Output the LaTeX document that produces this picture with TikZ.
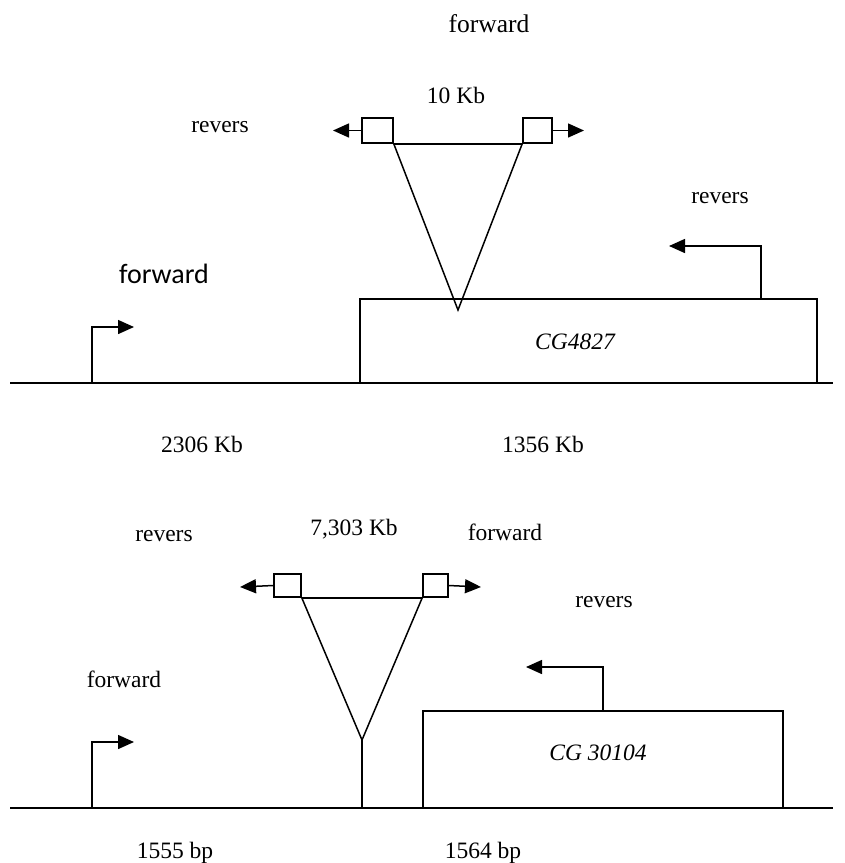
\documentclass[tikz,border=0pt]{standalone}
\usepackage{fontspec}
\setmainfont{Liberation Serif}
\newfontfamily\carlito{Carlito}
\usetikzlibrary{arrows.meta}
\begin{document}
\begin{tikzpicture}[x=1pt,y=-1pt,
  line width=1.5pt,
  lbl/.style={anchor=base,inner sep=0pt,font=\fontsize{23.5}{26}\selectfont},
  sans/.style={anchor=base,inner sep=0pt,font=\carlito\fontsize{28}{32}\selectfont},
  primer/.style={draw,rectangle,inner sep=0pt,line width=1.5pt},
  gene/.style={draw,rectangle,inner sep=0pt,line width=1.5pt},
  tip/.style={-{Triangle[length=16pt,width=14pt]}}]
\useasboundingbox (0,0) rectangle (845,863);
% ---------- top diagram ----------
\coordinate (b1l) at (10,383);
\coordinate (b1r) at (833,383);
\draw (b1l) -- (b1r);
\node[gene,minimum width=457pt,minimum height=84pt] (g1) at (588.5,341) {};
\node[lbl,font=\itshape\fontsize{23.5}{26}\selectfont] (g1t) at (575,349) {CG4827};
\node[primer,minimum width=31pt,minimum height=25pt] (lp1) at (377.5,130.5) {};
\node[primer,minimum width=29pt,minimum height=25pt] (rp1) at (537.5,130.5) {};
\coordinate (a1) at (458,310);
\draw (lp1.south east) -- (rp1.south west);
\draw (lp1.south east) -- (a1) -- (rp1.south west);
\coordinate (lt1) at (333,130.5);
\coordinate (rt1) at (584,130.5);
\draw[tip] (lp1.west) -- (lt1);
\draw[tip] (rp1.east) -- (rt1);
\coordinate (fp1) at (92,383);
\coordinate (ft1) at (134,327);
\draw[tip] (fp1) |- (ft1);
\coordinate (rv1) at (761,299);
\coordinate (rvt1) at (669,246);
\draw[tip] (rv1) |- (rvt1);
\node[lbl,font=\fontsize{25.5}{28}\selectfont] (t1) at (489,32) {forward};
\node[lbl] (t2) at (456,103) {10 Kb};
\node[lbl] (t3) at (220,132) {revers};
\node[lbl] (t4) at (720,203) {revers};
\node[sans] (t5) at (164,283) {forward};
\node[lbl] (t6) at (202,452) {2306 Kb};
\node[lbl] (t7) at (543,452) {1356 Kb};
% ---------- bottom diagram ----------
\coordinate (b2l) at (10,808);
\coordinate (b2r) at (833,808);
\draw (b2l) -- (b2r);
\node[gene,minimum width=360pt,minimum height=97pt] (g2) at (603,759.5) {};
\node[lbl,font=\itshape\fontsize{23.5}{26}\selectfont] (g2t) at (598,760) {CG 30104};
\node[primer,minimum width=27pt,minimum height=23pt] (lp2) at (287.5,585.5) {};
\node[primer,minimum width=25pt,minimum height=23pt] (rp2) at (435.5,585.5) {};
\coordinate (a2) at (362,740);
\coordinate (s2) at (362,808);
\draw (lp2.south east) -- (rp2.south west);
\draw (lp2.south east) -- (a2) -- (rp2.south west);
\draw (a2) -- (s2);
\coordinate (lt2) at (240,587);
\coordinate (rt2) at (481,587);
\draw[tip] (lp2.west) -- (lt2);
\draw[tip] (rp2.east) -- (rt2);
\coordinate (fp2) at (92,808);
\coordinate (ft2) at (134,742);
\draw[tip] (fp2) |- (ft2);
\coordinate (rv2) at (603,711);
\coordinate (rvt2) at (526,667);
\draw[tip] (rv2) |- (rvt2);
\node[lbl] (u1) at (164,541) {revers};
\node[lbl] (u2) at (354,535) {7,303 Kb};
\node[lbl] (u3) at (505,540) {forward};
\node[lbl] (u4) at (604,607) {revers};
\node[lbl] (u5) at (124,687) {forward};
\node[lbl] (u6) at (175,858) {1555 bp};
\node[lbl] (u7) at (483,858) {1564 bp};
\end{tikzpicture}
\end{document}
